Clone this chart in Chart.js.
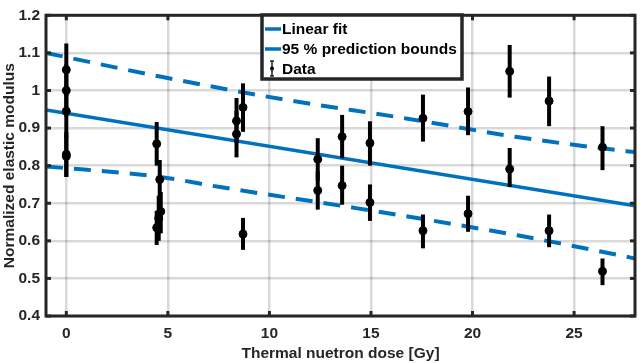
<!DOCTYPE html>
<html>
<head>
<meta charset="utf-8">
<script src="https://cdn.jsdelivr.net/npm/chart.js@4/dist/chart.umd.min.js"></script>
<style>
html,body{margin:0;padding:0;background:#fff;}
#wrap{width:641px;height:363px;position:relative;}
</style>
</head>
<body>
<div id="wrap"><canvas id="c" width="641" height="363"></canvas></div>
<script>
// ---- data ----
const doseX   = [0, 0, 0, 0, 0, 4.45, 4.6, 4.65, 4.55, 4.45, 8.38, 8.38, 8.7, 8.7, 12.38, 12.38, 13.58, 13.58, 14.95, 14.95, 17.56, 17.56, 19.78, 19.78, 21.83, 21.83, 23.77, 23.77, 26.4, 26.4];
const modulus = [1.055, 1.0, 0.945, 0.83, 0.825, 0.858, 0.763, 0.678, 0.66, 0.635, 0.919, 0.884, 0.955, 0.618, 0.817, 0.734, 0.877, 0.747, 0.86, 0.702, 0.926, 0.627, 0.944, 0.672, 1.051, 0.791, 0.972, 0.627, 0.849, 0.519];
const errLow  = [0.985, 0.93, 0.875, 0.77, 0.77, 0.80, 0.705, 0.62, 0.60, 0.589, 0.86, 0.822, 0.89, 0.576, 0.76, 0.683, 0.82, 0.696, 0.80, 0.653, 0.864, 0.58, 0.881, 0.624, 0.981, 0.743, 0.905, 0.583, 0.788, 0.482];
const errHigh = [1.125, 1.07, 1.015, 0.89, 0.88, 0.916, 0.815, 0.73, 0.72, 0.68, 0.98, 0.945, 1.019, 0.661, 0.873, 0.785, 0.935, 0.80, 0.918, 0.75, 0.989, 0.67, 1.008, 0.72, 1.121, 0.847, 1.037, 0.67, 0.905, 0.553];

const fitX   = [-1, 28];
const fitY   = [0.948, 0.693];
const upperX = [-1, 4.62, 10.5, 16.8, 22.1, 27.0, 28];
const upperY = [1.10, 1.037, 0.978, 0.925, 0.877, 0.842, 0.836];
const lowerX = [-1, 4.62, 7.57, 14.26, 22.27, 27.2, 28];
const lowerY = [0.798, 0.770, 0.743, 0.687, 0.614, 0.562, 0.553];

const xTicks = [0, 5, 10, 15, 20, 25];
const yTicks = [0.4, 0.5, 0.6, 0.7, 0.8, 0.9, 1.0, 1.1, 1.2];
const yTickLabels = ['0.4', '0.5', '0.6', '0.7', '0.8', '0.9', '1', '1.1', '1.2'];
const legendLabels = ['Linear fit', '95 % prediction bounds', 'Data'];
const xTitle = 'Thermal nuetron dose [Gy]';
const yTitle = 'Normalized elastic modulus';

// ---- styling ----
const BLUE = '#0072BD';
const DARK = '#262626';
const FONT = '"Liberation Sans", Arial, Helvetica, sans-serif';
const FS = 15.5;

const pts = (xs, ys) => xs.map((x, i) => ({x: x, y: ys[i]}));

const errorBars = {
  id: 'errorBars',
  beforeDatasetDraw(chart, args) {
    if (args.index !== 0) return;
    const xs = chart.scales.x, ys = chart.scales.y, ctx = chart.ctx;
    ctx.save();
    ctx.strokeStyle = '#000';
    ctx.lineWidth = 4;
    ctx.lineCap = 'butt';
    for (let i = 0; i < doseX.length; i++) {
      const px = xs.getPixelForValue(doseX[i]);
      ctx.beginPath();
      ctx.moveTo(px, ys.getPixelForValue(errLow[i]));
      ctx.lineTo(px, ys.getPixelForValue(errHigh[i]));
      ctx.stroke();
    }
    ctx.restore();
  }
};

const frame = {
  id: 'frame',
  afterDraw(chart) {
    const ctx = chart.ctx, a = chart.chartArea;
    const xs = chart.scales.x, ys = chart.scales.y;
    ctx.save();
    // inner ticks
    ctx.strokeStyle = DARK;
    ctx.lineWidth = 3;
    const tl = 5;
    xTicks.forEach(v => {
      const px = xs.getPixelForValue(v);
      ctx.beginPath(); ctx.moveTo(px, a.bottom); ctx.lineTo(px, a.bottom - tl); ctx.stroke();
      ctx.beginPath(); ctx.moveTo(px, a.top); ctx.lineTo(px, a.top + tl); ctx.stroke();
    });
    yTicks.forEach(v => {
      const py = ys.getPixelForValue(v);
      ctx.beginPath(); ctx.moveTo(a.left, py); ctx.lineTo(a.left + tl, py); ctx.stroke();
      ctx.beginPath(); ctx.moveTo(a.right, py); ctx.lineTo(a.right - tl, py); ctx.stroke();
    });
    // box
    ctx.lineWidth = 3;
    ctx.strokeRect(a.left, a.top, a.right - a.left, a.bottom - a.top);

    // legend
    const lx = 262, ly = 15, lw = 200, lh = 64;
    ctx.fillStyle = '#fff';
    ctx.fillRect(lx, ly, lw, lh);
    ctx.strokeStyle = DARK;
    ctx.lineWidth = 3.5;
    ctx.strokeRect(lx, ly, lw, lh);
    const rows = [29, 49, 69];
    ctx.strokeStyle = BLUE;
    ctx.lineWidth = 3.5;
    [0, 1].forEach(r => {
      ctx.beginPath(); ctx.moveTo(265, rows[r]); ctx.lineTo(281, rows[r]); ctx.stroke();
    });
    // data icon
    ctx.strokeStyle = '#000';
    ctx.lineWidth = 1.3;
    ctx.beginPath(); ctx.moveTo(272, 61); ctx.lineTo(272, 76); ctx.stroke();
    ctx.beginPath(); ctx.moveTo(270, 61); ctx.lineTo(274, 61); ctx.stroke();
    ctx.beginPath(); ctx.moveTo(270, 76); ctx.lineTo(274, 76); ctx.stroke();
    ctx.fillStyle = '#000';
    ctx.beginPath(); ctx.arc(272, 68.5, 2, 0, Math.PI * 2); ctx.fill();
    ctx.fillStyle = '#000';
    ctx.font = 'bold ' + FS + 'px ' + FONT;
    ctx.textBaseline = 'middle';
    ctx.textAlign = 'left';
    legendLabels.forEach((t, i) => ctx.fillText(t, 282, rows[i] + 1));
    ctx.restore();
  }
};

new Chart(document.getElementById('c'), {
  type: 'scatter',
  data: {
    datasets: [
      {label: legendLabels[2], data: pts(doseX, modulus), backgroundColor: '#000', borderColor: '#000',
       pointRadius: 4, pointHoverRadius: 4, showLine: false},
      {label: legendLabels[0], data: pts(fitX, fitY), showLine: true, borderColor: BLUE, borderWidth: 3.5,
       pointRadius: 0, fill: false, tension: 0},
      {label: legendLabels[1], data: pts(upperX, upperY), showLine: true, borderColor: BLUE, borderWidth: 4,
       borderDash: [17, 11], pointRadius: 0, fill: false, cubicInterpolationMode: 'monotone'},
      {label: legendLabels[1] + ' (lower)', data: pts(lowerX, lowerY), showLine: true, borderColor: BLUE, borderWidth: 4,
       borderDash: [17, 11], pointRadius: 0, fill: false, cubicInterpolationMode: 'monotone'}
    ]
  },
  options: {
    responsive: false,
    animation: false,
    events: [],
    layout: {padding: {left: 0, right: 6, top: 7, bottom: 0}},
    plugins: {legend: {display: false}, tooltip: {enabled: false}},
    scales: {
      x: {
        type: 'linear', min: -1, max: 28,
        afterBuildTicks: s => { s.ticks = xTicks.map(v => ({value: v})); },
        afterFit: s => { s.height = 47; },
        grid: {color: 'rgba(0,0,0,0.15)', lineWidth: 2.5, drawTicks: false},
        border: {display: false},
        ticks: {color: DARK, font: {family: FONT, size: FS, weight: 'bold'}, padding: 8, maxRotation: 0},
        title: {display: true, text: xTitle, color: DARK, font: {family: FONT, size: FS, weight: 'bold'}, padding: {top: 0, bottom: 0}}
      },
      y: {
        type: 'linear', min: 0.4, max: 1.2,
        afterBuildTicks: s => { s.ticks = yTicks.map(v => ({value: v})); },
        afterFit: s => { s.width = 46; },
        grid: {color: 'rgba(0,0,0,0.15)', lineWidth: 2.5, drawTicks: false},
        border: {display: false},
        ticks: {color: DARK, font: {family: FONT, size: FS, weight: 'bold'}, padding: 6,
                callback: (v) => { const i = yTicks.findIndex(t => Math.abs(t - v) < 1e-9); return i >= 0 ? yTickLabels[i] : ''; }},
        title: {display: true, text: yTitle, color: DARK, font: {family: FONT, size: FS, weight: 'bold'}, padding: {top: 0, bottom: 0}}
      }
    }
  },
  plugins: [errorBars, frame]
});
</script>
</body>
</html>
